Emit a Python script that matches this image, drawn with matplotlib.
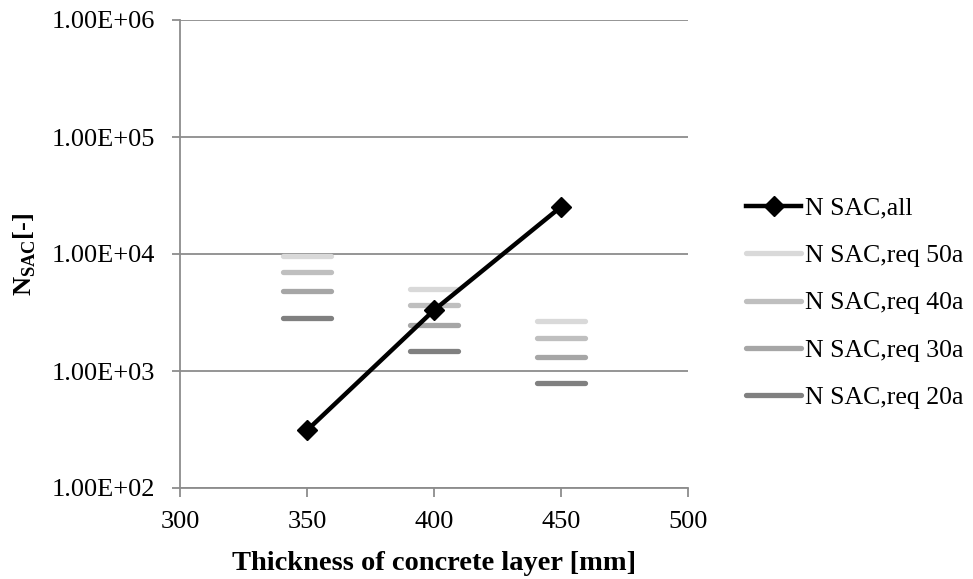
import matplotlib
matplotlib.use("Agg")
import matplotlib.pyplot as plt
from matplotlib.ticker import FuncFormatter, FixedLocator, NullLocator
from matplotlib.markers import MarkerStyle
from matplotlib.lines import Line2D

plt.rcParams['font.family'] = ['Liberation Serif', 'DejaVu Serif']
plt.rcParams['mathtext.fontset'] = 'custom'
plt.rcParams['mathtext.rm'] = 'Liberation Serif'
plt.rcParams['mathtext.bf'] = 'Liberation Serif:bold'

thickness = [350, 400, 450]
n_all = [311, 3310, 25300]
req_labels = ['N SAC,req 50a', 'N SAC,req 40a', 'N SAC,req 30a', 'N SAC,req 20a']
req_values = [
    [9600, 4990, 2650],
    [7000, 3640, 1930],
    [4820, 2480, 1318],
    [2830, 1475, 791],
]
req_colors = ['#d9d9d9', '#bfbfbf', '#a6a6a6', '#808080']
y_ticks = [1e2, 1e3, 1e4, 1e5, 1e6]
x_ticks = [300, 350, 400, 450, 500]

FS = 19
fig = plt.figure(figsize=(9.73, 5.79), dpi=100)
ax = fig.add_axes([180/973, 1-488/579, (688-180)/973, (488-20)/579])

ax.plot(thickness, n_all, color='black', lw=3.2, marker='D', markersize=10,
        label='N SAC,all', zorder=4)

dash = MarkerStyle('_', capstyle='round')
for lab, vals, col in zip(req_labels, req_values, req_colors):
    ax.plot(thickness, vals, linestyle='none', marker=dash, markersize=35,
            markeredgewidth=3.8, color=col, label=lab, zorder=3)

ax.set_yscale('log')
ax.set_ylim(1e2, 1e6)
ax.set_xlim(300, 500)
ax.yaxis.set_major_locator(FixedLocator(y_ticks))
ax.yaxis.set_minor_locator(NullLocator())
ax.yaxis.set_major_formatter(FuncFormatter(lambda v, p: f"{v:.2E}"))
ax.set_xticks(x_ticks)

ax.grid(axis='y', color='#8c8c8c', lw=1.3)
ax.set_axisbelow(True)
for s in ['top', 'right']:
    ax.spines[s].set_visible(False)
for s in ['left', 'bottom']:
    ax.spines[s].set_color('#8c8c8c')
    ax.spines[s].set_linewidth(1.3)
ax.tick_params(axis='both', colors='#8c8c8c', labelcolor='black', labelsize=FS,
               width=1.3, direction='out')
ax.tick_params(axis='y', length=6, pad=12)
ax.tick_params(axis='x', length=6.5, pad=10)

ax.set_xlabel('Thickness of concrete layer [mm]', fontsize=20.5, fontweight='bold')
ax.xaxis.set_label_coords(0.5, -0.135)
ax.set_ylabel(r'N$_{\mathbf{SAC}}$[-]', fontsize=FS, fontweight='bold')
ax.yaxis.set_label_coords(-0.28, 0.5)

handles = [Line2D([], [], color='black', lw=3.2, marker='D', markersize=10)]
handles += [Line2D([], [], color=c, lw=3.8, solid_capstyle='round') for c in req_colors]
labels = ['N SAC,all'] + req_labels
leg = fig.legend(handles, labels, loc='center left', bbox_to_anchor=(746/973, 1-303/579),
                 frameon=False, fontsize=18.5, handlelength=2.15, handletextpad=0.15,
                 labelspacing=0.95, borderaxespad=0, borderpad=0)

fig.savefig('out.png', dpi=100)
